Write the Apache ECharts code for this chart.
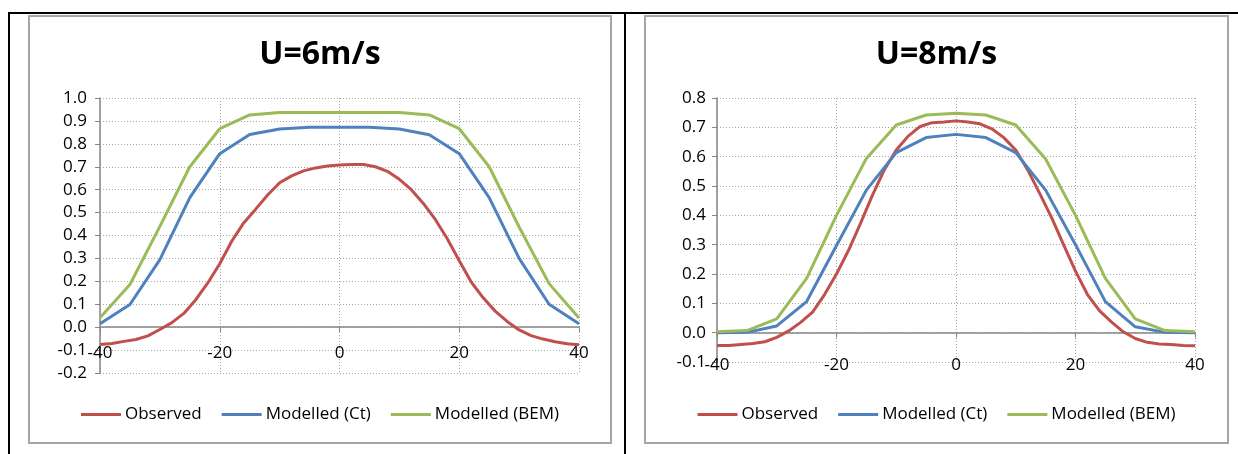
<!DOCTYPE html>
<html>
<head>
<meta charset="utf-8">
<script src="https://cdn.jsdelivr.net/npm/echarts@6/dist/echarts.min.js"></script>
<style>
  html, body { margin: 0; padding: 0; background: #fff; }
  body { width: 1238px; height: 454px; position: relative; overflow: hidden; }
  .bl { position: absolute; background: #000; }
  .frame { position: absolute; box-sizing: border-box; border: 2px solid #a6a6a6; background: #fff; }
</style>
</head>
<body>
<div class="bl" style="left:8px;top:12px;width:1230px;height:2px;"></div>
<div class="bl" style="left:8px;top:12px;width:2px;height:442px;"></div>
<div class="bl" style="left:624px;top:12px;width:2px;height:442px;"></div>
<div class="frame" id="c1" style="left:28px;top:15px;width:584px;height:429px;"></div>
<div class="frame" id="c2" style="left:644px;top:15px;width:585px;height:429px;"></div>
<script>
// ---- data ----
const seriesNames = ['Observed', 'Modelled (Ct)', 'Modelled (BEM)'];
const xObs = [-40,-38,-36,-34,-32,-30,-28,-26,-24,-22,-20,-18,-16,-14,-12,-10,-8,-6,-4,-2,0,2,4,6,8,10,12,14,16,18,20,22,24,26,28,30,32,34,36,38,40];
const xMod = [-40,-35,-30,-25,-20,-15,-10,-5,0,5,10,15,20,25,30,35,40];

// U=6m/s
const obs6 = [-0.076,-0.071,-0.062,-0.054,-0.038,-0.010,0.020,0.060,0.120,0.193,0.277,0.375,0.455,0.515,0.577,0.630,0.660,0.682,0.695,0.703,0.708,0.710,0.710,0.700,0.680,0.645,0.600,0.540,0.470,0.386,0.290,0.197,0.128,0.070,0.025,-0.012,-0.037,-0.052,-0.064,-0.072,-0.077];
const ct6  = [0.015,0.099,0.295,0.565,0.757,0.841,0.865,0.872,0.872,0.872,0.865,0.840,0.757,0.565,0.300,0.100,0.015];
const bem6 = [0.041,0.186,0.440,0.700,0.866,0.926,0.937,0.937,0.937,0.937,0.937,0.926,0.866,0.700,0.437,0.190,0.040];

// U=8m/s
const obs8 = [-0.044,-0.044,-0.040,-0.037,-0.031,-0.016,0.006,0.035,0.070,0.130,0.200,0.280,0.372,0.468,0.555,0.623,0.670,0.703,0.716,0.718,0.722,0.718,0.712,0.695,0.665,0.623,0.555,0.475,0.392,0.300,0.210,0.130,0.075,0.037,0.003,-0.020,-0.033,-0.039,-0.040,-0.044,-0.045];
const ct8  = [0.000,0.001,0.023,0.106,0.297,0.486,0.614,0.665,0.676,0.665,0.614,0.486,0.300,0.106,0.020,0.001,0.000];
const bem8 = [0.003,0.007,0.047,0.185,0.400,0.594,0.708,0.742,0.748,0.742,0.708,0.592,0.400,0.185,0.047,0.007,0.003];

const xTicks = [-40, -20, 0, 20, 40];
const yTicks6 = ['-0.2','-0.1','0.0','0.1','0.2','0.3','0.4','0.5','0.6','0.7','0.8','0.9','1.0'];
const yTicks8 = ['-0.1','0.0','0.1','0.2','0.3','0.4','0.5','0.6','0.7','0.8'];
// ---- end data ----

const colors = ['#C0504D', '#4F81BD', '#9BBB59'];
const FONT = '"Open Sans", Lato, sans-serif';

function pairs(xs, ys) { return xs.map((x, i) => [x, ys[i]]); }

function build(el, title, obs, ct, bem, yTicks, grid, labelMargin, yLabelMargin) {
  const chart = echarts.init(el, null, { renderer: 'canvas' });
  const ymin = parseFloat(yTicks[0]);
  const ymax = parseFloat(yTicks[yTicks.length - 1]);
  const mk = (name, data, i) => ({
    name, type: 'line', data, showSymbol: false, symbol: 'none', smooth: false,
    lineStyle: { color: colors[i], width: 3 }, itemStyle: { color: colors[i] },
    animation: false, z: 3 + i
  });
  chart.setOption({
    animation: false,
    color: colors,
    title: {
      text: title, left: 'center', top: 22, padding: 0,
      textStyle: { fontFamily: FONT, fontWeight: 'bold', fontSize: 32, color: '#000' }
    },
    legend: {
      data: seriesNames, left: 'center', top: 389, padding: 0,
      icon: 'rect', itemWidth: 40, itemHeight: 3, itemGap: 20,
      textStyle: { fontFamily: FONT, fontSize: 17, color: '#000', padding: [0, 0, 0, -1] }
    },
    grid: grid,
    xAxis: {
      type: 'value', min: -40, max: 40, interval: 20,
      axisLine: { show: true, onZero: true, lineStyle: { color: '#868686', width: 1.5 } },
      axisTick: { show: true, length: 5, lineStyle: { color: '#868686' } },
      axisLabel: {
        margin: labelMargin, color: '#000', fontFamily: FONT, fontSize: 17,
        formatter: v => (xTicks.indexOf(v) >= 0 ? String(v) : '')
      },
      splitLine: { show: true, lineStyle: { color: '#a6a6a6', type: [1, 2], width: 1 } }
    },
    yAxis: {
      type: 'value', min: ymin, max: ymax, interval: 0.1,
      axisLine: { show: true, onZero: false, lineStyle: { color: '#868686', width: 1.5 } },
      axisTick: { show: true, length: 5, lineStyle: { color: '#868686' } },
      axisLabel: {
        margin: yLabelMargin, color: '#000', fontFamily: FONT, fontSize: 17,
        formatter: v => { const s = v.toFixed(1); return s === '-0.0' ? '0.0' : s; }
      },
      splitLine: { show: true, lineStyle: { color: '#a6a6a6', type: [1, 2], width: 1 } }
    },
    series: [
      mk(seriesNames[0], pairs(xObs, obs), 0),
      mk(seriesNames[1], pairs(xMod, ct), 1),
      mk(seriesNames[2], pairs(xMod, bem), 2)
    ]
  });
}

build(document.getElementById('c1'), 'U=6m/s', obs6, ct6, bem6, yTicks6,
  { left: 70, top: 81, width: 479, height: 275 }, -28, 13);
build(document.getElementById('c2'), 'U=8m/s', obs8, ct8, bem8, yTicks8,
  { left: 71, top: 81, width: 478, height: 264 }, -5, 11);
</script>
</body>
</html>
